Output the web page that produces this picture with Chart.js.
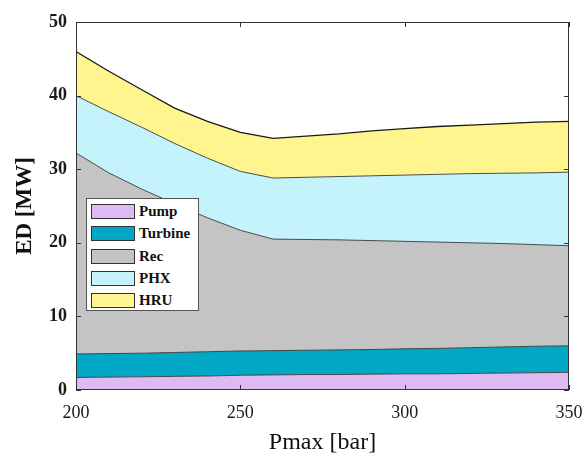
<!DOCTYPE html>
<html>
<head>
<meta charset="utf-8">
<script src="https://cdn.jsdelivr.net/npm/chart.js@4/dist/chart.umd.min.js"></script>
<style>
  html, body { margin: 0; padding: 0; background: #fff; }
  #wrap { position: relative; width: 587px; height: 455px; }
  #legend {
    position: absolute; left: 86px; top: 198px; width: 113px; height: 113px;
    background: #fff; border: 1px solid #555; box-sizing: border-box;
    font-family: "Liberation Serif", "DejaVu Serif", serif; font-weight: bold; font-size: 15px; color: #111;
  }
  .item { position: absolute; left: 4px; height: 17px; display: flex; align-items: center; }
  .sw { width: 44px; height: 15px; border: 1.5px solid #333; box-sizing: border-box; margin-right: 4px; }
</style>
</head>
<body>
<div id="wrap">
  <canvas id="c" width="587" height="455"></canvas>
  <div id="legend"></div>
</div>
<script>
const pressures = [200,210,220,230,240,250,260,270,280,290,300,310,320,330,340,350];
const seriesNames = ["Pump","Turbine","Rec","PHX","HRU"];
const pump    = [1.7,1.75,1.8,1.85,1.9,2.0,2.05,2.1,2.1,2.15,2.2,2.2,2.25,2.3,2.35,2.4];
const turbine = [3.2,3.2,3.2,3.25,3.3,3.3,3.3,3.3,3.35,3.35,3.4,3.45,3.5,3.55,3.6,3.6];
const rec     = [27.3,24.55,22.3,20.2,18.2,16.4,15.15,15.05,14.95,14.8,14.6,14.45,14.25,14.05,13.8,13.6];
const phx     = [7.8,8.3,8.4,8.2,8.1,8.0,8.3,8.45,8.6,8.8,9.0,9.2,9.4,9.55,9.75,10.0];
const hru     = [6.0,5.5,5.1,4.8,5.0,5.3,5.4,5.6,5.8,6.1,6.3,6.5,6.6,6.75,6.9,6.9];
const xTicks = [200,250,300,350];
const yTicks = [0,10,20,30,40,50];

const colors = ["#DDBAF2","#00A8C6","#C4C4C4","#C4F3FB","#FFF58E"];
const values = [pump, turbine, rec, phx, hru];

const datasets = values.map((arr, i) => ({
  label: seriesNames[i],
  data: arr.map((v, j) => ({ x: pressures[j], y: v })),
  backgroundColor: colors[i],
  borderColor: i === 4 ? "#1a1a1a" : "#3a3a3a",
  borderWidth: i === 4 ? 1.3 : 0.9,
  pointRadius: 0,
  tension: 0,
  fill: i === 0 ? "origin" : "-1"
}));

const frame = {
  id: "frame",
  afterDatasetsDraw(chart) {
    const { ctx, chartArea: a, scales: { x, y } } = chart;
    ctx.save();
    ctx.strokeStyle = "#333";
    ctx.lineWidth = 1;
    ctx.strokeRect(a.left + 0.5, a.top + 0.5, a.right - a.left - 1, a.bottom - a.top - 1);
    const L = 5;
    ctx.beginPath();
    xTicks.forEach(v => {
      const px = Math.round(x.getPixelForValue(v)) + 0.5;
      ctx.moveTo(px, a.bottom); ctx.lineTo(px, a.bottom - L);
      ctx.moveTo(px, a.top); ctx.lineTo(px, a.top + L);
    });
    yTicks.forEach(v => {
      const py = Math.round(y.getPixelForValue(v)) + 0.5;
      ctx.moveTo(a.left, py); ctx.lineTo(a.left + L, py);
      ctx.moveTo(a.right, py); ctx.lineTo(a.right - L, py);
    });
    ctx.stroke();
    ctx.restore();
  }
};

new Chart(document.getElementById("c"), {
  type: "line",
  data: { datasets },
  options: {
    responsive: false,
    animation: false,
    layout: { padding: { left: 0, right: 18, top: 22, bottom: 0 } },
    plugins: { legend: { display: false }, tooltip: { enabled: false } },
    scales: {
      x: {
        type: "linear", min: 200, max: 350,
        afterBuildTicks(s) { s.ticks = xTicks.map(v => ({ value: v })); },
        afterFit(s) { s.height = 65; s.paddingLeft = 0; s.paddingRight = 0; },
        grid: { display: false, drawTicks: false },
        border: { display: false },
        ticks: { font: { family: "'Liberation Serif', serif", size: 18 }, color: "#1a1a1a", padding: 12, maxRotation: 0 },
        title: { display: true, text: "Pmax [bar]", font: { family: "'Liberation Serif', serif", size: 24, lineHeight: 1.0 }, color: "#111", padding: { top: 0, bottom: 0 } }
      },
      y: {
        type: "linear", min: 0, max: 50, stacked: true,
        afterBuildTicks(s) { s.ticks = yTicks.map(v => ({ value: v })); },
        afterFit(s) { s.width = 76; s.paddingTop = 0; s.paddingBottom = 0; },
        grid: { display: false, drawTicks: false },
        border: { display: false },
        ticks: { font: { family: "'Liberation Serif', serif", size: 18, weight: "bold" }, color: "#1a1a1a", padding: 9 },
        title: { display: true, text: "ED [MW]", font: { family: "'Liberation Serif', serif", size: 23, weight: "bold" }, color: "#111", padding: { top: 11, bottom: 0 } }
      }
    }
  },
  plugins: [frame]
});

const leg = document.getElementById("legend");
seriesNames.forEach((n, i) => {
  const it = document.createElement("div");
  it.className = "item";
  it.style.top = (4 + i * 22.3) + "px";
  const sw = document.createElement("div");
  sw.className = "sw";
  sw.style.background = colors[i];
  const t = document.createElement("span");
  t.textContent = n;
  it.appendChild(sw); it.appendChild(t);
  leg.appendChild(it);
});
</script>
</body>
</html>
